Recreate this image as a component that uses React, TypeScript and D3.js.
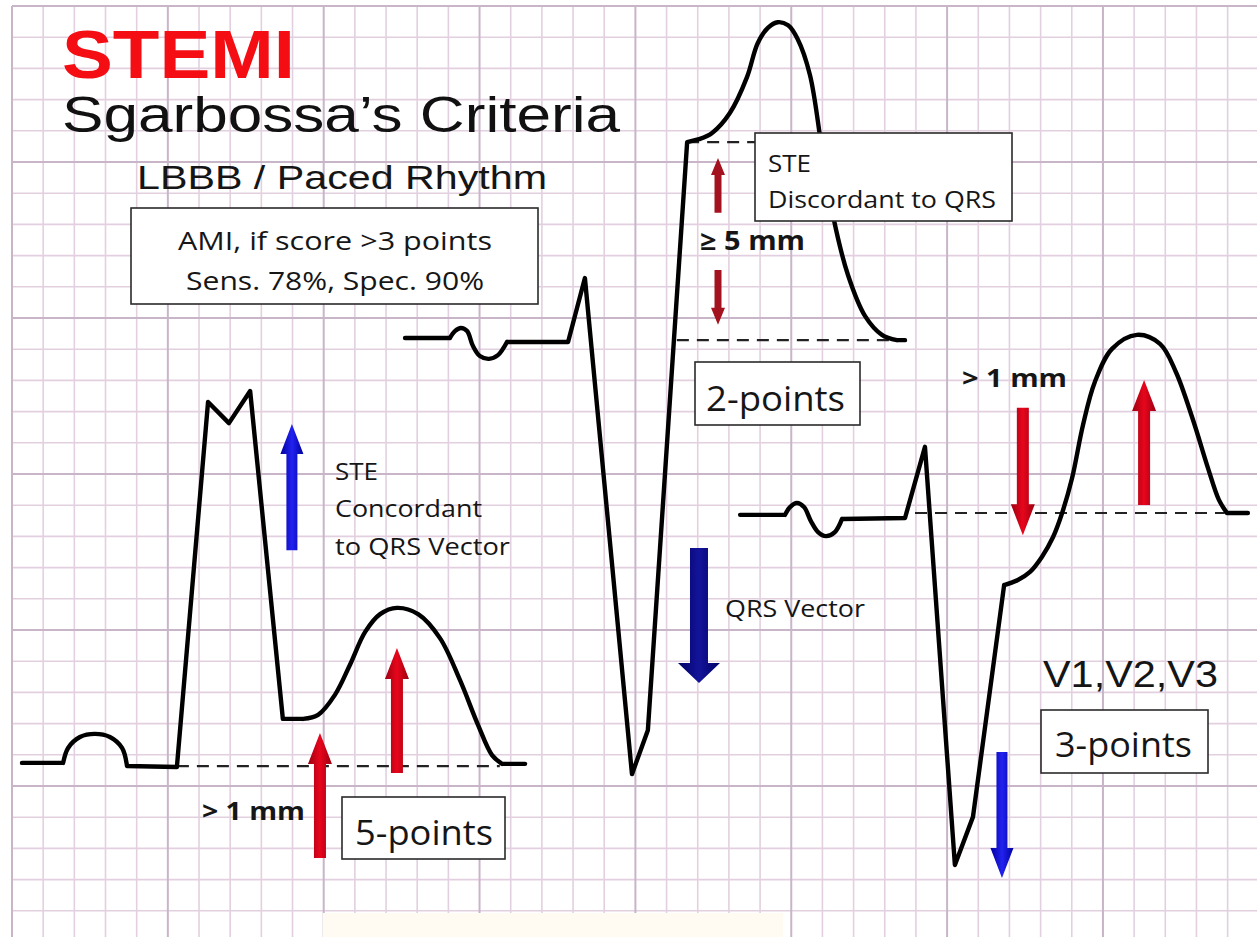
import React from 'react';
import * as d3 from 'd3';

const W = 1257;
const H = 937;
const GRID_COLS = 40;
const GRID_ROWS = 30;

// ---- ECG traces, in grid squares (col, row) ----
const trace1Flat1 = [[0.32, 24.26], [1.64, 24.26]];
const trace1P = [[1.64, 24.26], [1.8, 23.78], [2.18, 23.43], [2.66, 23.33], [3.14, 23.43], [3.53, 23.78], [3.69, 24.36]];
const trace1QRS = [[3.69, 24.36], [5.29, 24.39], [6.29, 12.69], [6.96, 13.37], [7.64, 12.34], [8.69, 22.85], [9.34, 22.85]];
const trace1T = [[9.34, 22.85], [9.82, 22.72], [10.36, 22.08], [10.84, 21.12], [11.33, 20.06], [11.81, 19.49], [12.35, 19.29], [13.03, 19.49], [13.73, 20.26], [14.37, 21.6], [14.95, 23.04], [15.4, 24.01], [15.72, 24.29]];
const trace1Flat2 = [[15.72, 24.29], [16.46, 24.29]];

const trace2Flat1 = [[12.61, 10.64], [14.05, 10.64]];
const trace2P = [[14.05, 10.64], [14.21, 10.42], [14.4, 10.32], [14.6, 10.42], [14.79, 10.9], [15.01, 11.22], [15.3, 11.31], [15.59, 11.19], [15.88, 10.77]];
const trace2QRS = [[15.88, 10.77], [17.84, 10.77], [18.38, 8.72], [19.89, 24.62], [20.4, 23.21], [21.66, 4.36], [22.07, 4.26]];
const trace2T = [[22.07, 4.26], [22.46, 4.07], [23.03, 3.43], [23.58, 2.28], [23.92, 1.2], [24.25, 0.7], [24.57, 0.52], [24.9, 0.62], [25.2, 1.05], [25.6, 2.21], [25.99, 4.62], [26.37, 6.86], [26.82, 8.62], [27.37, 9.94], [27.91, 10.54], [28.39, 10.71]];
const trace2Flat2 = [[28.39, 10.71], [28.65, 10.71]];

const trace3Flat1 = [[23.36, 16.31], [24.8, 16.31]];
const trace3P = [[24.8, 16.31], [24.96, 16.06], [25.18, 15.93], [25.41, 16.06], [25.63, 16.51], [25.86, 16.86], [26.11, 16.99], [26.4, 16.86], [26.63, 16.44]];
const trace3QRS = [[26.63, 16.44], [28.65, 16.41], [29.29, 14.13], [30.25, 27.53], [30.83, 25.99], [31.83, 18.56]];
const trace3T = [[31.83, 18.56], [32.27, 18.4], [32.66, 18.14], [33.04, 17.66], [33.4, 17.02], [33.69, 16.25], [34.01, 15.13], [34.36, 13.43], [34.74, 12.05], [35.29, 10.99], [36.09, 10.54], [36.83, 10.83], [37.34, 11.73], [37.89, 13.27], [38.37, 14.81], [38.72, 15.83], [38.98, 16.25]];
const trace3Flat2 = [[38.98, 16.25], [39.65, 16.25]];

const traces = [
  [{ smooth: false, pts: trace1Flat1 }, { smooth: true, pts: trace1P }, { smooth: false, pts: trace1QRS }, { smooth: true, pts: trace1T }, { smooth: false, pts: trace1Flat2 }],
  [{ smooth: false, pts: trace2Flat1 }, { smooth: true, pts: trace2P }, { smooth: false, pts: trace2QRS }, { smooth: true, pts: trace2T }, { smooth: false, pts: trace2Flat2 }],
  [{ smooth: false, pts: trace3Flat1 }, { smooth: true, pts: trace3P }, { smooth: false, pts: trace3QRS }, { smooth: true, pts: trace3T }, { smooth: false, pts: trace3Flat2 }],
];

// dashed isoelectric / J-point reference lines: [x0, x1, y]
const refLines = [[5.29, 15.65, 24.36], [21.66, 23.9, 4.36], [21.33, 28.49, 10.71], [28.97, 38.91, 16.25]];

// arrows: [x, tail, tip]
const redArrows = [[9.88, 27.31, 23.3], [12.35, 24.58, 20.58], [32.43, 12.88, 16.96], [36.32, 15.99, 11.99]];
const smallRedArrows = [[22.65, 6.63, 4.87], [22.65, 8.46, 10.22]];
const blueArrows = [[8.98, 17.44, 13.4], [31.76, 23.91, 27.95]];
const navyArrows = [[22.04, 17.37, 21.7]];

const titleText = 'STEMI';
const subtitleText = 'Sgarbossa\u2019s Criteria';
const rhythmText = 'LBBB / Paced Rhythm';
const amiLines = ['AMI, if score >3 points', 'Sens. 78%, Spec. 90%'];
const concordantLines = ['STE', 'Concordant', 'to QRS Vector'];
const discordantLines = ['STE', 'Discordant to QRS'];
const pointsLabels = ['5-points', '2-points', '3-points'];

const xs = d3.scaleLinear().domain([0, GRID_COLS]).range([12, 12 + 31.17 * GRID_COLS]);
const ys = d3.scaleLinear().domain([0, GRID_ROWS]).range([6, 6 + 31.2 * GRID_ROWS]);

const linLine = d3.line<number[]>().x((d) => xs(d[0])).y((d) => ys(d[1])).curve(d3.curveLinear);
const smoothLine = d3.line<number[]>().x((d) => xs(d[0])).y((d) => ys(d[1])).curve(d3.curveCatmullRom.alpha(0.5));

function tracePath(segs: { smooth: boolean; pts: number[][] }[]) {
  return segs.map((s) => (s.smooth ? smoothLine(s.pts) : linLine(s.pts))).join(' ');
}

function arrowPath(a: number[], shaft: number, head: number, headLen: number) {
  const x = xs(a[0]);
  const yT = ys(a[1]);
  const yP = ys(a[2]);
  const dir = yP > yT ? 1 : -1;
  const yB = yP - dir * headLen;
  const pts: [number, number][] = [
    [x - shaft / 2, yT], [x - shaft / 2, yB], [x - head / 2, yB], [x, yP],
    [x + head / 2, yB], [x + shaft / 2, yB], [x + shaft / 2, yT],
  ];
  return d3.line()(pts) + 'Z';
}

const SANS = '"Open Sans", "Noto Sans", sans-serif';
const ARIAL = '"Liberation Sans", Arial, sans-serif';

function Txt(props: any) {
  const { x, y, size, len, weight, family, anchor, fill, children } = props;
  return (
    <text x={x} y={y} fontSize={size} fontFamily={family || SANS} fontWeight={weight || 400}
      textAnchor={anchor || 'start'} fill={fill || '#161616'}
      textLength={len} lengthAdjust="spacingAndGlyphs">{children}</text>
  );
}

export default function App() {
  const vLines = d3.range(0, GRID_COLS).filter((k) => xs(k) <= W);
  const hLines = d3.range(0, GRID_ROWS).filter((k) => ys(k) <= H);
  return (
    <svg width={W} height={H} viewBox={`0 0 ${W} ${H}`}
      style={{ position: 'absolute', left: 0, top: 0, display: 'block', background: '#fff' }}>
      <defs>
        <linearGradient id="gRed" x1="0" x2="1" y1="0" y2="0">
          <stop offset="0" stopColor="#9c0012" />
          <stop offset="0.5" stopColor="#e8061c" />
          <stop offset="1" stopColor="#9c0012" />
        </linearGradient>
        <linearGradient id="gBlue" x1="0" x2="1" y1="0" y2="0">
          <stop offset="0" stopColor="#0000a0" />
          <stop offset="0.5" stopColor="#2222f0" />
          <stop offset="1" stopColor="#0000a0" />
        </linearGradient>
        <linearGradient id="gNavy" x1="0" x2="1" y1="0" y2="0">
          <stop offset="0" stopColor="#000066" />
          <stop offset="0.5" stopColor="#14149a" />
          <stop offset="1" stopColor="#000066" />
        </linearGradient>
      </defs>
      <rect x={0} y={0} width={W} height={H} fill="#ffffff" />
      {/* grid */}
      <g>
        {vLines.filter((k) => k % 5 !== 0).map((k) => (
          <line key={'v' + k} x1={xs(k)} x2={xs(k)} y1={ys(0)} y2={H} stroke="#e2d0e0" strokeWidth={1.6} />
        ))}
        {hLines.filter((k) => k % 5 !== 0).map((k) => (
          <line key={'h' + k} x1={xs(0)} x2={W} y1={ys(k)} y2={ys(k)} stroke="#e2d0e0" strokeWidth={1.6} />
        ))}
        {vLines.filter((k) => k % 5 === 0).map((k) => (
          <line key={'V' + k} x1={xs(k)} x2={xs(k)} y1={ys(0)} y2={H} stroke="#c8b5c8" strokeWidth={2} />
        ))}
        {hLines.filter((k) => k % 5 === 0).map((k) => (
          <line key={'H' + k} x1={xs(0)} x2={W} y1={ys(k)} y2={ys(k)} stroke="#c8b5c8" strokeWidth={2} />
        ))}
      </g>
      <rect x={323} y={913} width={460} height={24} fill="#fffbf3" />

      {/* titles */}
      <Txt x={62} y={78} size={68} len={233} weight={700} family={ARIAL} fill="#f50d14">{titleText}</Txt>
      <Txt x={62} y={132} size={50} len={558} family={ARIAL} fill="#111">{subtitleText}</Txt>
      <Txt x={137} y={189} size={33} len={410} family={ARIAL} fill="#151515">{rhythmText}</Txt>

      {/* AMI box */}
      <rect x={131} y={208} width={407} height={96} fill="#ffffff" stroke="#2a2a2a" strokeWidth={1.6} />
      <Txt x={335} y={250} size={25} len={314} anchor="middle">{amiLines[0]}</Txt>
      <Txt x={335} y={290} size={25} len={298} anchor="middle">{amiLines[1]}</Txt>

      {/* dashed reference lines */}
      {refLines.map((r, i) => (
        <line key={'r' + i} x1={xs(r[0])} x2={xs(r[1])} y1={ys(r[2])} y2={ys(r[2])}
          stroke="#222" strokeWidth={2.2} strokeDasharray="12 8" />
      ))}

      {/* traces */}
      {traces.map((t, i) => (
        <path key={'t' + i} d={tracePath(t)} fill="none" stroke="#000" strokeWidth={4.4}
          strokeLinejoin="round" strokeLinecap="round" />
      ))}

      {/* arrows */}
      {redArrows.map((a, i) => <path key={'ra' + i} d={arrowPath(a, 12, 24, 31)} fill="url(#gRed)" />)}
      {smallRedArrows.map((a, i) => <path key={'sa' + i} d={arrowPath(a, 7, 14, 17)} fill="#a3121e" />)}
      {blueArrows.map((a, i) => <path key={'ba' + i} d={arrowPath(a, 11, 23, 30)} fill="url(#gBlue)" />)}
      {navyArrows.map((a, i) => <path key={'na' + i} d={arrowPath(a, 18, 42, 20)} fill="url(#gNavy)" />)}

      {/* discordant box */}
      <rect x={755} y={133} width={257} height={88} fill="#ffffff" stroke="#2a2a2a" strokeWidth={1.6} />
      <Txt x={768} y={172} size={23} len={43}>{discordantLines[0]}</Txt>
      <Txt x={768} y={208} size={23} len={228}>{discordantLines[1]}</Txt>

      <Txt x={700} y={250} size={26} len={105} weight={700}>{'\u2265 5 mm'}</Txt>

      {/* concordant text */}
      <Txt x={335} y={480} size={23} len={43}>{concordantLines[0]}</Txt>
      <Txt x={335} y={517} size={23} len={147}>{concordantLines[1]}</Txt>
      <Txt x={335} y={555} size={23} len={175}>{concordantLines[2]}</Txt>

      <Txt x={725} y={617} size={23} len={140}>QRS Vector</Txt>

      <Txt x={202} y={820} size={25} len={103} weight={700}>{'> 1 mm'}</Txt>
      <Txt x={962} y={387} size={25} len={105} weight={700}>{'> 1 mm'}</Txt>

      {/* points boxes */}
      <rect x={342} y={797} width={163} height={62} fill="#ffffff" stroke="#2a2a2a" strokeWidth={1.6} />
      <Txt x={355} y={845} size={35} len={138}>{pointsLabels[0]}</Txt>
      <rect x={695} y={362} width={165} height={63} fill="#ffffff" stroke="#2a2a2a" strokeWidth={1.6} />
      <Txt x={706} y={411} size={35} len={139}>{pointsLabels[1]}</Txt>
      <rect x={1041} y={710} width={167} height={63} fill="#ffffff" stroke="#2a2a2a" strokeWidth={1.6} />
      <Txt x={1055} y={757} size={35} len={137}>{pointsLabels[2]}</Txt>

      <Txt x={1043} y={687} size={37} len={175} family={ARIAL} fill="#151515">V1,V2,V3</Txt>
    </svg>
  );
}
